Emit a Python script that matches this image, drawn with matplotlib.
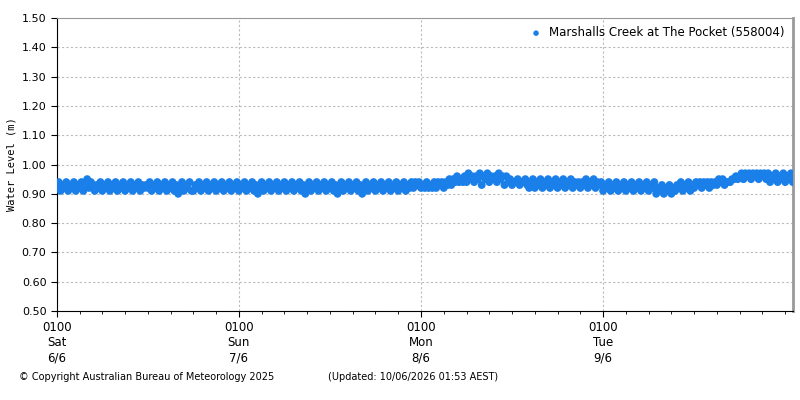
import numpy as np
import matplotlib.pyplot as plt

# water level readings every 15 minutes, digit = hundredths above 0.90 m
sat = "341324132413241352431324" "132413241324132413241323" "241324132413241302413241" "132413241324132413241324"
sun = "132413241302413241324132" "413241324130241324132413" "241302413241324130241324" "132413241324132413242434"
mon = "232423242434243535464546" "475646573657465647563645" "344534453245243524352435" "243524352434243524352434"
tue = "132413241324132413241324" "132402130213021324132413" "243424342434354534445565" "675767576757675746574657"
wed = "46574657"

readings = sat + sun + mon + tue + wed
level = [0.90 + int(c) / 100 for c in readings]
hours = [i * 0.25 for i in range(len(level))]  # hours since 0100 Sat

day_labels = ["0100\nSat\n6/6", "0100\nSun\n7/6", "0100\nMon\n8/6", "0100\nTue\n9/6"]

fig = plt.figure(figsize=(8, 4), dpi=100)
ax = fig.add_axes([0.071, 0.2225, 0.92, 0.7325])

ax.scatter(hours, level, s=32, color="#1a7fe8", edgecolors="none",
           label="Marshalls Creek at The Pocket (558004)", zorder=3)

ax.set_xlim(0, 97)
ax.set_ylim(0.5, 1.5)
ax.set_yticks(np.arange(0.5, 1.51, 0.1))
ax.set_yticklabels(["%.2f" % v for v in np.arange(0.5, 1.51, 0.1)], fontsize=8)
ax.set_xticks([0, 24, 48, 72])
ax.set_xticklabels(day_labels, fontsize=8.5)
ax.set_xticks(np.arange(0, 97, 3), minor=True)
ax.tick_params(which="minor", length=2)
ax.tick_params(which="major", length=4)
ax.grid(True, linestyle=(0, (2, 2)), color="#bbbbbb", linewidth=0.8)
ax.set_ylabel("Water Level (m)", family="DejaVu Sans Mono", fontsize=7.5)
for s in ["top", "right"]:
    ax.spines[s].set_color("#999999")
ax.spines["right"].set_linewidth(2)

ax.legend(loc="upper right", frameon=False, fontsize=8.5, handletextpad=0.1,
          markerscale=0.7, borderaxespad=0.3)

fig.text(0.024, 0.05, "© Copyright Australian Bureau of Meteorology 2025", fontsize=7)
fig.text(0.41, 0.05, "(Updated: 10/06/2026 01:53 AEST)", fontsize=7)

fig.savefig("out.png")
